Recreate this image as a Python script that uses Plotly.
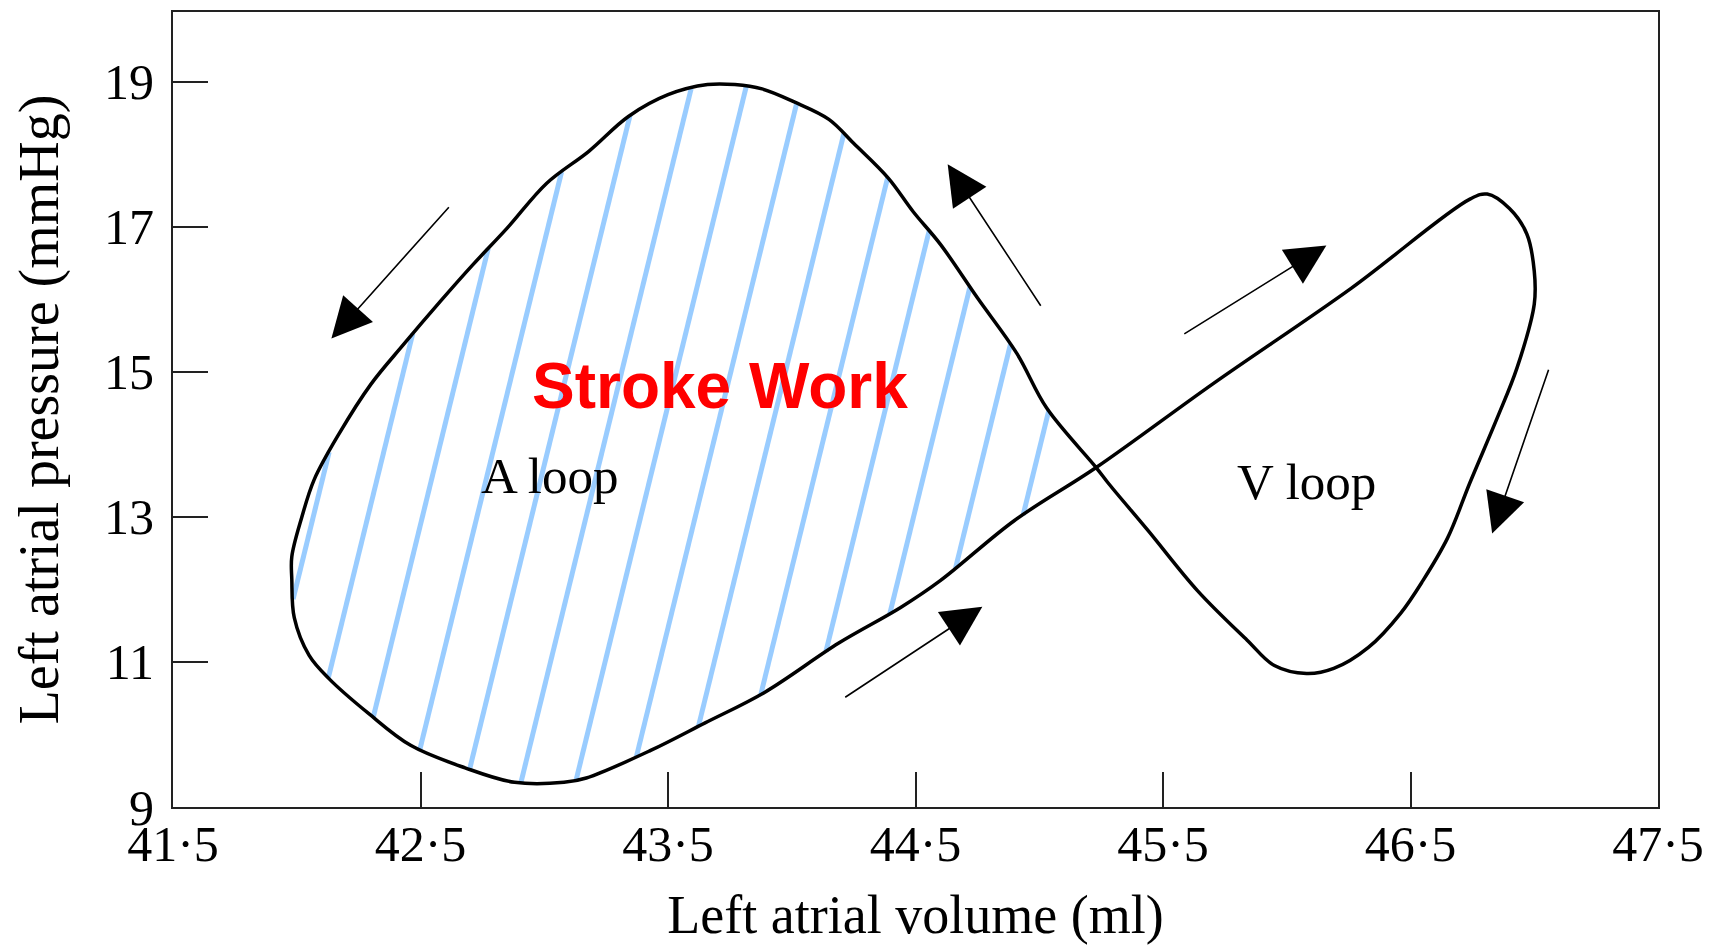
import numpy as np
import plotly.graph_objects as go

# ---- data (volume ml, pressure mmHg) ----
# Loop trace: starts at the crossing, runs round the A loop (counter-clockwise),
# back through the crossing, then round the V loop (clockwise) to the crossing.
loop_volume = [45.23, 45.03, 44.91, 44.75, 44.60, 44.49, 44.39, 44.25, 44.15, 44.01,
               43.88, 43.77, 43.66, 43.50, 43.34, 43.18, 43.01, 42.85, 42.71, 42.58,
               42.43, 42.30, 42.17, 42.07, 42.02, 41.98, 41.98, 41.99, 42.05, 42.13,
               42.29, 42.46, 42.68, 42.88, 43.08, 43.17, 43.43, 43.65, 43.89, 44.19,
               44.44, 44.60, 44.90, 45.23,
               45.70, 46.26, 46.74, 46.81, 46.90, 46.97, 47.00, 47.00, 46.93, 46.85,
               46.74, 46.65, 46.55, 46.46, 46.33, 46.19, 46.08, 45.95, 45.84, 45.64,
               45.44, 45.28, 45.23]
loop_pressure = [13.68, 14.50, 15.25, 16.02, 16.76, 17.21, 17.67, 18.15, 18.48, 18.72,
                 18.90, 18.96, 18.96, 18.82, 18.52, 18.04, 17.60, 16.98, 16.47, 15.97,
                 15.37, 14.83, 14.14, 13.51, 12.99, 12.45, 12.14, 11.61, 11.09, 10.77,
                 10.29, 9.85, 9.54, 9.34, 9.34, 9.40, 9.78, 10.16, 10.58, 11.26,
                 11.75, 12.12, 12.95, 13.68,
                 14.83, 16.15, 17.38, 17.45, 17.25, 16.90, 16.39, 15.93, 15.05, 14.36,
                 13.47, 12.71, 12.12, 11.67, 11.20, 10.91, 10.84, 10.95, 11.30, 11.98,
                 12.81, 13.46, 13.68]
A_LOOP_END = 44  # number of points belonging to the A loop (closed)

# direction arrows: tail -> tip
arrow_tail_volume = [42.62, 44.21, 45.01, 45.58, 47.06]
arrow_tail_pressure = [17.29, 10.50, 15.89, 15.51, 15.05]
arrow_tip_volume = [42.14, 44.77, 44.63, 46.16, 46.83]
arrow_tip_pressure = [15.46, 11.76, 17.86, 16.74, 12.77]

x_tick_values = [41.5, 42.5, 43.5, 44.5, 45.5, 46.5, 47.5]
x_tick_labels = ["41·5", "42·5", "43·5", "44·5", "45·5", "46·5", "47·5"]
y_tick_values = [9, 11, 13, 15, 17, 19]
y_tick_labels = ["9", "11", "13", "15", "17", "19"]

labels = ["Stroke Work", "A loop", "V loop"]
label_volume = [43.71, 43.02, 46.08]
label_pressure = [14.80, 13.56, 13.48]

# ---- hatching of the A loop (stroke work area) ----
hatch_slope = 0.0719      # volume change per mmHg along a hatch line
hatch_first = 41.779      # volume where first hatch line meets 9 mmHg
hatch_step = 0.2205
hatch_count = 14

ax_poly = np.array(loop_volume[:A_LOOP_END])
ay_poly = np.array(loop_pressure[:A_LOOP_END])


def clip(c):
    ys = []
    n = len(ax_poly)
    for i in range(n - 1):
        x1, y1, x2, y2 = ax_poly[i], ay_poly[i], ax_poly[i + 1], ay_poly[i + 1]
        f1 = x1 - (c + hatch_slope * (y1 - 9))
        f2 = x2 - (c + hatch_slope * (y2 - 9))
        if f1 * f2 < 0:
            t = f1 / (f1 - f2)
            ys.append(y1 + t * (y2 - y1))
    ys.sort()
    segs = []
    for j in range(0, len(ys) - 1, 2):
        segs.append((ys[j], ys[j + 1]))
    return segs


hx, hy = [], []
for i in range(hatch_count):
    c = hatch_first + i * hatch_step
    for y0, y1 in clip(c):
        hx += [c + hatch_slope * (y0 - 9), c + hatch_slope * (y1 - 9), None]
        hy += [y0, y1, None]

fig = go.Figure()
fig.add_trace(go.Scatter(x=hx, y=hy, mode="lines",
                         line=dict(color="#99CCFF", width=5),
                         hoverinfo="skip"))
fig.add_trace(go.Scatter(x=loop_volume, y=loop_pressure, mode="lines",
                         line=dict(color="black", width=3.5, shape="spline", smoothing=1.0),
                         hoverinfo="skip"))

for tx, ty, hx_, hy_ in zip(arrow_tail_volume, arrow_tail_pressure,
                            arrow_tip_volume, arrow_tip_pressure):
    fig.add_annotation(x=hx_, y=hy_, ax=tx, ay=ty, xref="x", yref="y",
                       axref="x", ayref="y", text="", showarrow=True,
                       arrowhead=2, arrowsize=5, arrowwidth=1.6,
                       arrowcolor="black", standoff=0, startstandoff=0)

fig.add_annotation(x=label_volume[0], y=label_pressure[0], text=labels[0],
                   showarrow=False, xanchor="center", yanchor="middle",
                   font=dict(family="Liberation Sans", size=64, color="#FF0000",
                             weight="bold"))
for k in (1, 2):
    fig.add_annotation(x=label_volume[k], y=label_pressure[k], text=labels[k],
                       showarrow=False, xanchor="center", yanchor="middle",
                       font=dict(family="Liberation Serif", size=51, color="black"))

axis_col = "#222222"
fig.update_xaxes(range=[41.5, 47.5], tickvals=x_tick_values, ticktext=x_tick_labels,
                 ticks="inside", ticklen=35, tickwidth=1.5, tickcolor=axis_col,
                 showline=True, linecolor=axis_col, linewidth=2, mirror=True,
                 showgrid=False, zeroline=False, ticklabelstandoff=-8,
                 tickfont=dict(family="Liberation Serif", size=50, color="black"),
                 title=dict(text="Left atrial volume (ml)", standoff=24,
                            font=dict(family="Liberation Serif", size=54, color="black")))
fig.update_yaxes(range=[9, 19.96], tickvals=y_tick_values, ticktext=y_tick_labels,
                 ticks="inside", ticklen=35, tickwidth=1.5, tickcolor=axis_col,
                 showline=True, linecolor=axis_col, linewidth=2, mirror=True,
                 showgrid=False, zeroline=False, ticklabelstandoff=7,
                 tickfont=dict(family="Liberation Serif", size=50, color="black"),
                 title=dict(text="Left atrial pressure (mmHg)", standoff=37,
                            font=dict(family="Liberation Serif", size=56, color="black")))

fig.update_layout(width=1719, height=945, showlegend=False,
                  margin=dict(l=165, r=69, t=4, b=146, autoexpand=False),
                  plot_bgcolor="white", paper_bgcolor="white")

fig.write_html("out.html")
